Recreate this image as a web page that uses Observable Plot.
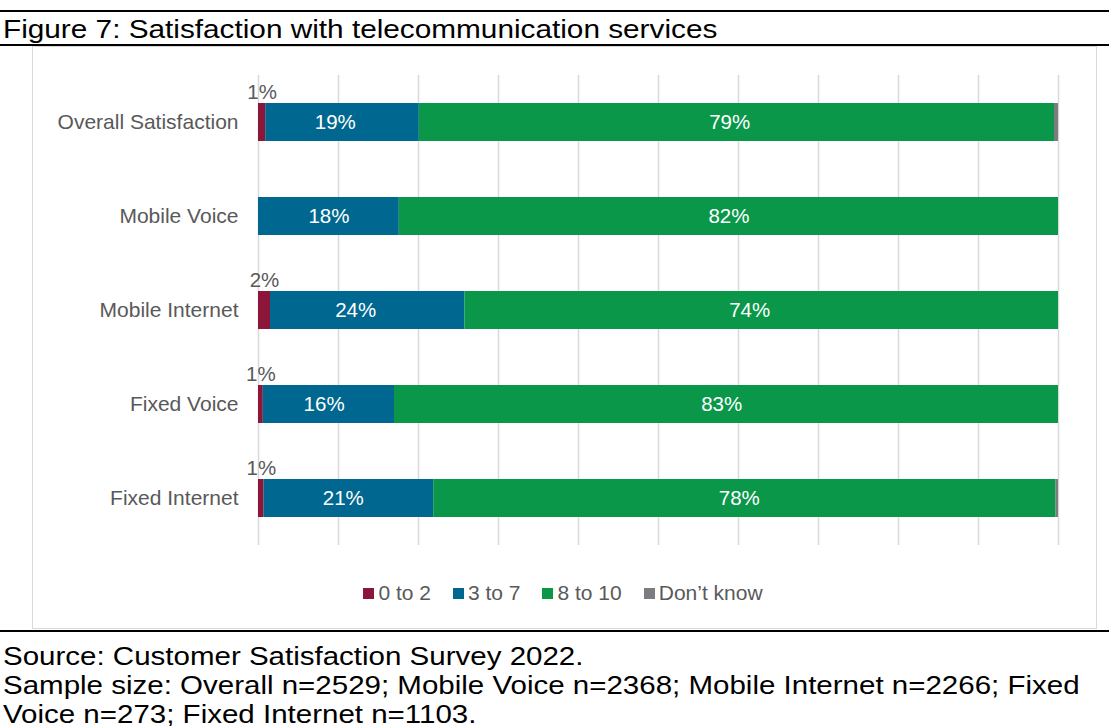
<!DOCTYPE html>
<html>
<head>
<meta charset="utf-8">
<script src="https://cdn.jsdelivr.net/npm/d3@7"></script>
<script src="https://cdn.jsdelivr.net/npm/@observablehq/plot@0.6"></script>
<style>
  html, body { margin: 0; padding: 0; background: #fff; width: 1109px; height: 726px; overflow: hidden; }
  body { font-family: "Liberation Sans", Arial, sans-serif; position: relative; }
  .hline { position: absolute; left: 0; width: 1109px; background: #000; }
  #title { position: absolute; left: 3px; top: 14px; font-size: 25px; color: #000; white-space: nowrap; line-height: 30px; transform: scaleX(1.19); transform-origin: 0 0; }
  #box { position: absolute; left: 32px; top: 46px; width: 1063px; height: 581px; border: 1.5px solid #d9d9d9; box-sizing: content-box; }
  #chart { position: absolute; left: 0; top: 46px; }
  #legend { position: absolute; top: 580px; left: 0; width: 1126px; display: flex; justify-content: center; font-size: 21px; color: #595959; line-height: 26px; }
  .item { display: flex; align-items: center; margin: 0 11px; }
  .sw { width: 11px; height: 11px; margin-right: 4px; }
  #footer { position: absolute; left: 3px; top: 642px; font-size: 25px; line-height: 29px; color: #000; white-space: nowrap; transform: scaleX(1.18); transform-origin: 0 0; }
</style>
</head>
<body>
<div class="hline" style="top:10px;height:2px"></div>
<div id="title">Figure 7: Satisfaction with telecommunication services</div>
<div class="hline" style="top:44px;height:1.5px"></div>
<div id="box"></div>
<div id="chart"></div>
<div id="legend"></div>
<div class="hline" style="top:630px;height:2px"></div>
<div id="footer">Source: Customer Satisfaction Survey 2022.<br>Sample size: Overall n=2529; Mobile Voice n=2368; Mobile Internet n=2266; Fixed<br>Voice n=273; Fixed Internet n=1103.</div>
<script>
const categories = ["Overall Satisfaction", "Mobile Voice", "Mobile Internet", "Fixed Voice", "Fixed Internet"];
const series = ["0 to 2", "3 to 7", "8 to 10", "Don’t know"];
const v0to2 = [0.9, 0, 1.5, 0.6, 0.7];
const v3to7 = [19.2, 17.6, 24.3, 16.4, 21.2];
const v8to10 = [79.4, 82.4, 74.2, 83.0, 77.8];
const vDontKnow = [0.5, 0, 0, 0, 0.3];
const colors = ["#8c1639", "#006890", "#0a974a", "#7c7c80"];
const gridTicks = d3.range(0, 101, 10);

const seriesValues = [v0to2, v3to7, v8to10, vDontKnow];
const data = [];
categories.forEach((c, i) => {
  series.forEach((s, j) => {
    data.push({cat: c, series: s, value: seriesValues[j][i]});
  });
});

const fmt = d => Math.round(d.value) + "%";
const font = "'Liberation Sans', Arial, sans-serif";

const plot = Plot.plot({
  width: 1109,
  height: 530,
  marginLeft: 258,
  marginRight: 51,
  marginTop: 29,
  marginBottom: 31,
  style: {fontFamily: font, fontSize: "20px", color: "#595959", background: "transparent"},
  x: {domain: [0, 100], axis: null},
  y: {domain: categories, paddingInner: 0.596, paddingOuter: 0.298, axis: null},
  color: {domain: series, range: colors},
  marks: [
    Plot.ruleX(gridTicks, {stroke: "#d9d9d9", strokeWidth: 1.5}),
    Plot.axisY({tickSize: 0, tickPadding: 20, fontSize: 21, label: null, fill: "#595959"}),
    Plot.barX(data, Plot.stackX({x: "value", y: "cat", fill: "series", order: series, inset: 0})),
    Plot.text(data, Plot.stackX({
      x: "value", y: "cat", z: "series", order: series,
      text: fmt,
      filter: d => d.series !== "0 to 2" && d.series !== "Don’t know" && d.value > 0,
      fill: "white", fontSize: 20.5
    })),
    Plot.text(data, Plot.stackX({
      x: "value", y: "cat", z: "series", order: series,
      text: fmt,
      filter: d => d.series === "0 to 2" && d.value > 0,
      fill: "#595959", fontSize: 20.5, dy: -30
    }))
  ]
});
document.getElementById("chart").appendChild(plot);

const legend = document.getElementById("legend");
series.forEach((s, i) => {
  const item = document.createElement("div");
  item.className = "item";
  const sw = document.createElement("div");
  sw.className = "sw";
  sw.style.background = colors[i];
  const t = document.createElement("span");
  t.textContent = s;
  item.appendChild(sw);
  item.appendChild(t);
  legend.appendChild(item);
});
</script>
</body>
</html>
